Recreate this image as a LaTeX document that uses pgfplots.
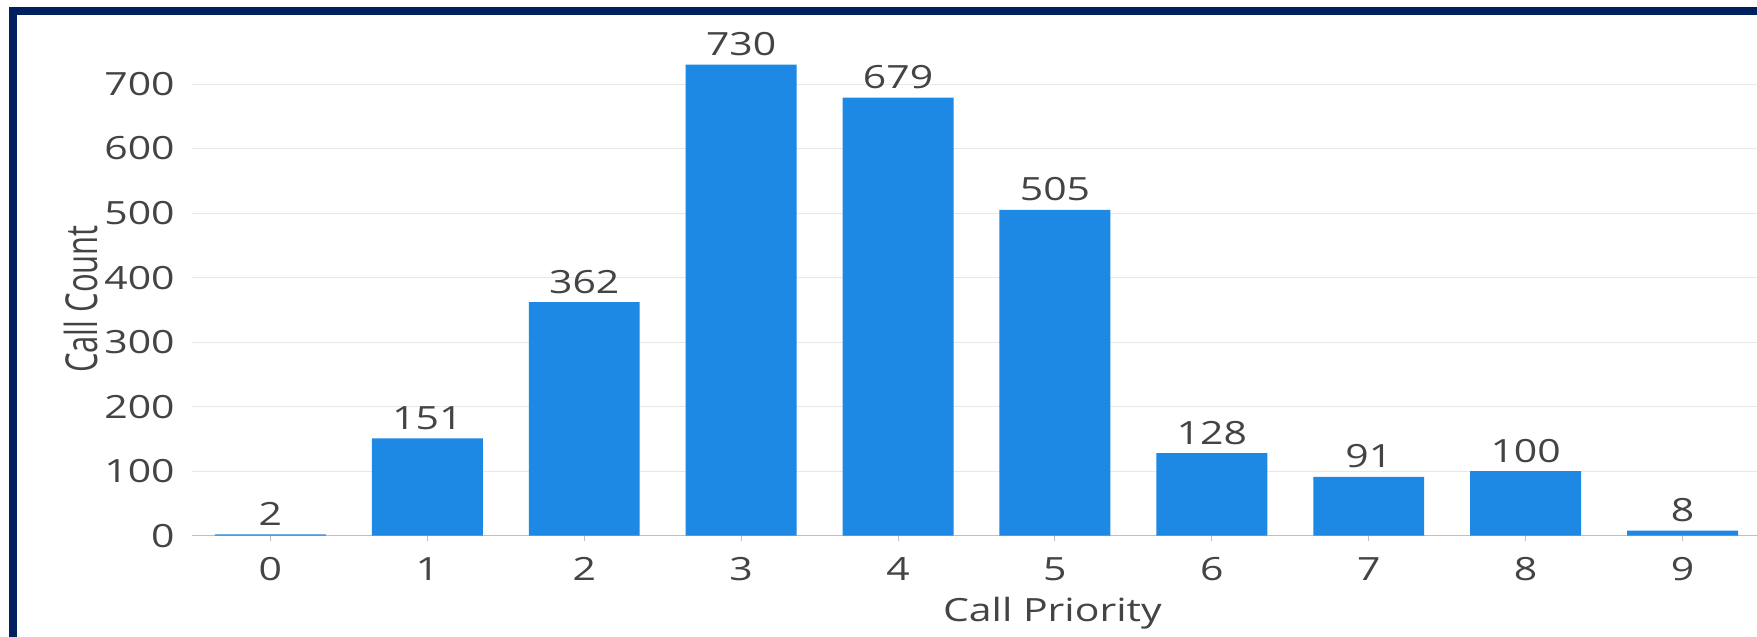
\documentclass[border=0pt]{standalone}
\usepackage{fontspec}
\setmainfont[FakeStretch=1.28]{Open Sans}
\newfontfamily\ylfont{Open Sans}
\usepackage{pgfplots}
\pgfplotsset{compat=1.18}
\usepackage{graphicx}
\definecolor{barblue}{HTML}{1E88E5}
\definecolor{navy}{HTML}{002060}
\definecolor{txt}{HTML}{444444}
\definecolor{gridc}{HTML}{E8E8E8}
\definecolor{axc}{HTML}{BFBFBF}
\begin{document}
\begin{tikzpicture}
\useasboundingbox (0,0) rectangle (878.5pt,318.5pt);
\clip (0,0) rectangle (878.5pt,318.5pt);
\fill[white] (0,0) rectangle (878.5pt,318.5pt);
\begin{axis}[
  at={(96pt,50.65pt)}, anchor=south west,
  width=784.5pt, height=260.35pt, scale only axis,
  xmin=-0.5, xmax=9.5, ymin=0, ymax=807,
  ybar, bar width=0.707,
  /pgf/number format/assume math mode=true,
  xtick={0,1,2,3,4,5,6,7,8,9},
  ytick={0,100,200,300,400,500,600,700},
  axis lines*=left,
  axis line style={-},
  x axis line style={draw=axc, line width=0.6pt},
  y axis line style={draw=none},
  tick align=outside,
  major tick length=2.5pt,
  xtick style={draw=axc, line width=0.5pt},
  ytick style={draw=none},
  ymajorgrids,
  grid style={draw=gridc, line width=0.5pt},
  ticklabel style={font=\fontsize{16}{19}\selectfont, text=txt},
  xticklabel style={anchor=base, yshift=-20pt},
  yticklabel style={anchor=east, inner sep=0pt, xshift=-6pt},
  xlabel={Call Priority},
  xlabel style={font=\fontsize{16}{19}\selectfont, text=txt, at={(axis description cs:0.5484,0)}, anchor=base, yshift=-43.15pt, inner sep=0pt},
  ylabel={\scalebox{1}[1.42]{\ylfont\fontsize{15.5}{18}\selectfont Call Count}},
  ylabel style={text=txt, at={(axis description cs:0,0.4546)}, anchor=center, inner sep=0pt, yshift=55.6pt},
  nodes near coords,
  every node near coord/.append style={font=\fontsize{16}{19}\selectfont, text=txt, anchor=base, inner sep=0pt, yshift=4.5pt},
]
\addplot[fill=barblue, draw=none] coordinates {(0,2) (1,151) (2,362) (3,730) (4,679) (5,505) (6,128) (7,91) (8,100) (9,8)};
\end{axis}
\fill[navy] (4.5pt,0) rectangle (8.5pt,315pt);
\fill[navy] (4.5pt,311pt) rectangle (878.5pt,315pt);
\end{tikzpicture}
\end{document}
